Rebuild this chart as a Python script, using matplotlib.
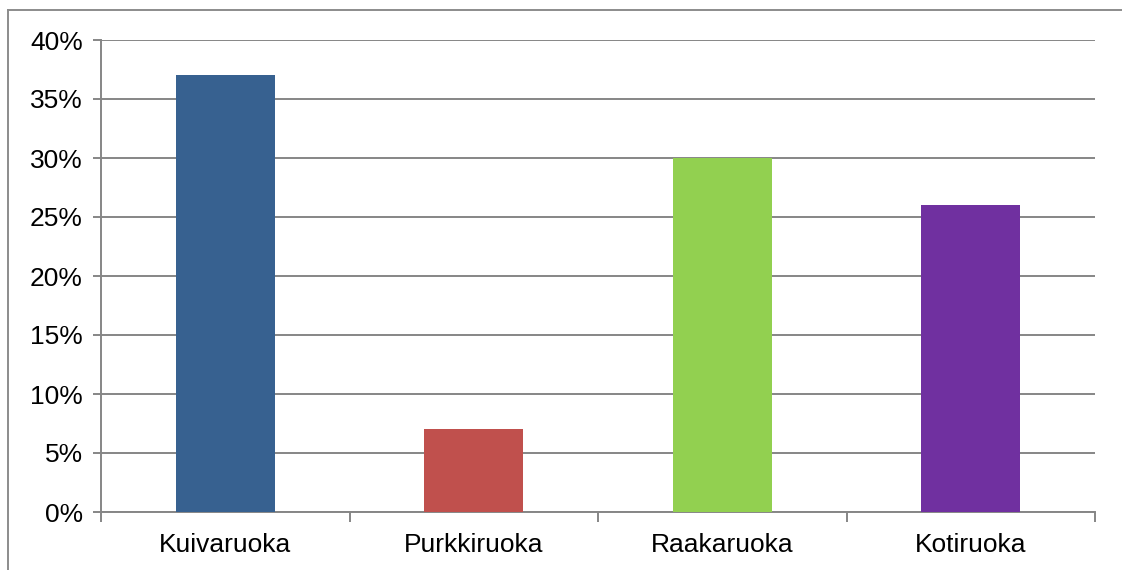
import matplotlib.pyplot as plt
from matplotlib.lines import Line2D
from matplotlib.ticker import PercentFormatter

categories = ['Kuivaruoka', 'Purkkiruoka', 'Raakaruoka', 'Kotiruoka']
values = [37, 7, 30, 26]
colors = ['#376190', '#c0504d', '#92d050', '#7030a0']

plt.rcParams['font.family'] = ['Liberation Sans', 'DejaVu Sans']

W, H = 1122, 570
fig = plt.figure(figsize=(W / 100, H / 100), dpi=100)
ax = fig.add_axes([101 / W, 1 - 512 / H, (1095 - 101) / W, (512 - 40) / H])

x = range(len(categories))
ax.bar(x, values, width=0.4, color=colors, zorder=3)

ax.set_xlim(-0.5, len(categories) - 0.5)
ax.set_ylim(0, 40)
ax.set_yticks(range(0, 41, 5))
ax.yaxis.set_major_formatter(PercentFormatter(decimals=0))
ax.set_xticks(list(x))
ax.set_xticklabels(categories)
ax.set_xticks([i - 0.5 for i in range(len(categories) + 1)], minor=True)

gray = '#868686'
ax.grid(axis='y', color=gray, linewidth=1.4, zorder=0)
for s in ['top', 'right']:
    ax.spines[s].set_visible(False)
for s in ['left', 'bottom']:
    ax.spines[s].set_color(gray)
    ax.spines[s].set_linewidth(1.4)

ax.tick_params(axis='y', length=6, color=gray, width=1.4, labelsize=19, pad=7)
ax.tick_params(axis='x', which='major', length=0, labelsize=19, pad=15)
ax.tick_params(axis='x', which='minor', length=7, color=gray, width=1.4)

# outer chart border (only top and left visible)
fig.add_artist(Line2D([8 / W, 1], [1 - 10 / H, 1 - 10 / H], color='#8c8c8c', linewidth=1.4))
fig.add_artist(Line2D([8 / W, 8 / W], [0, 1 - 10 / H], color='#8c8c8c', linewidth=1.4))

fig.savefig('out.png', dpi=100)
